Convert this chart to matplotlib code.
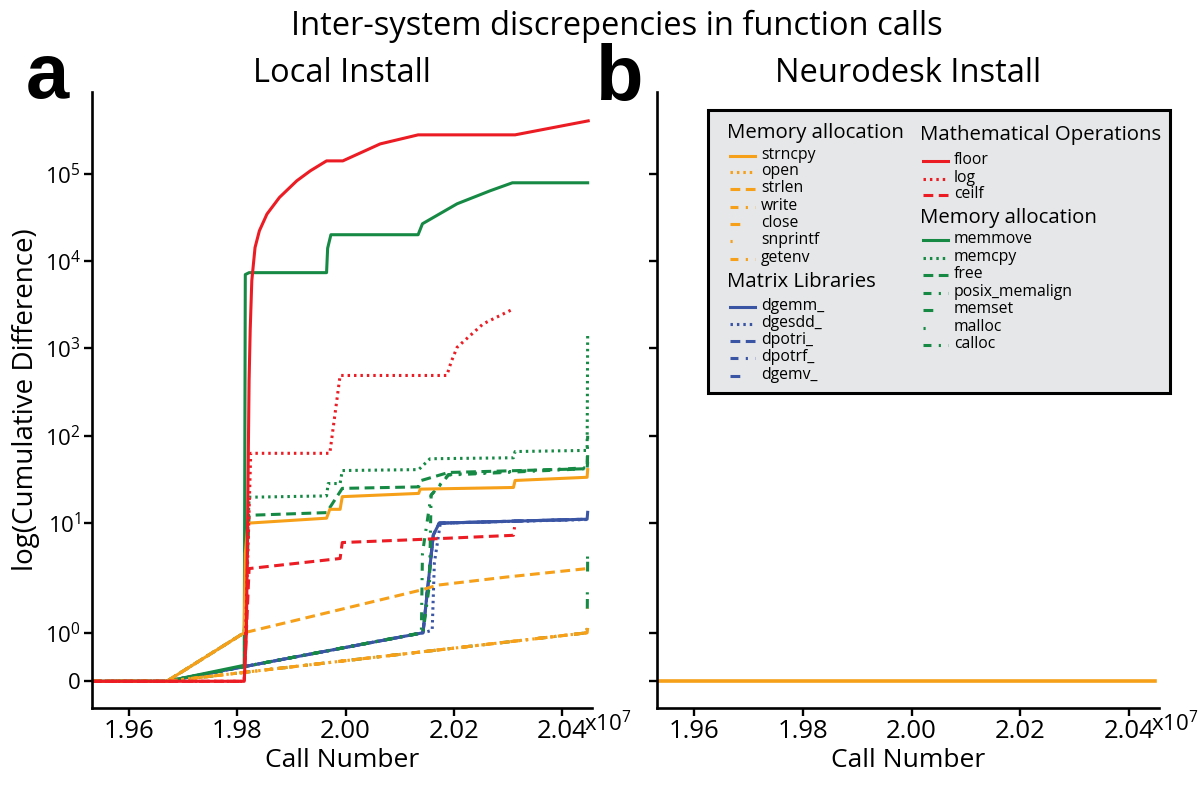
import matplotlib
matplotlib.use('Agg')
import matplotlib.pyplot as plt
from matplotlib.lines import Line2D
from matplotlib.patches import Rectangle
from matplotlib.ticker import FixedLocator, NullLocator

# call numbers below are given in units of 1e7 calls

# --- Local install: cumulative difference per function ---
# Memory allocation (orange)
strncpy_x = [1.9532, 1.9670, 1.9813, 1.9815, 1.9820, 1.9965, 1.9971, 1.9990, 1.9994, 2.0135, 2.0138, 2.0310, 2.0313, 2.0446, 2.0447]
strncpy_y = [0, 0, 1.0, 4.5, 10.0, 11.4, 14.4, 14.4, 20.1, 21.9, 24.5, 25.6, 30.8, 33.5, 41]
open_x = [1.9532, 1.9670, 2.0446]
open_y = [0, 0, 1.0]
strlen_x = [1.9532, 1.9670, 1.9813, 2.0143, 2.0169, 2.0298, 2.0446]
strlen_y = [0, 0, 1.0, 1.89, 1.98, 2.42, 3.02]
write_x = [1.9532, 1.9670, 2.0446]
write_y = [0, 0, 1.0]
close_x = [1.9532, 1.9670, 2.0446, 2.0447]
close_y = [0, 0, 1.0, 1.5]
snprintf_x = [1.9532, 1.9670, 2.0446, 2.0447]
snprintf_y = [0, 0, 1.0, 1.75]
getenv_x = [1.9532, 1.9670, 2.0446, 2.0447]
getenv_y = [0, 0, 1.0, 1.1]

# Matrix libraries (blue)
dgemm_x = [1.9532, 1.9670, 2.0143, 2.0162, 2.0173, 2.0446, 2.0447]
dgemm_y = [0, 0, 1.0, 7.3, 10.0, 11.1, 13.3]
dgesdd_x = [1.9532, 1.9670, 2.0143, 2.0160, 2.0164, 2.0175, 2.0446]
dgesdd_y = [0, 0, 1.0, 1.05, 3.5, 10.0, 11.0]
dpotri_x = [1.9532, 1.9670, 2.0143, 2.0162, 2.0173, 2.0446]
dpotri_y = [0, 0, 1.0, 7.3, 10.0, 11.1]
dpotrf_x = [1.9532, 1.9670, 2.0143, 2.0162, 2.0173, 2.0446]
dpotrf_y = [0, 0, 1.0, 7.3, 10.0, 11.1]
dgemv_x = [1.9532, 1.9670, 2.0143, 2.0162, 2.0173, 2.0446]
dgemv_y = [0, 0, 1.0, 7.3, 10.0, 11.1]

# Mathematical operations (red)
floor_x = [1.9532, 1.9813, 1.9817, 1.9822, 1.9824, 1.9827, 1.9833, 1.9841, 1.9855, 1.9878, 1.9910, 1.9935,
           1.9965, 1.9995, 2.0064, 2.0134, 2.0313, 2.0448]
floor_y = [0, 0, 1.0, 428, 1600, 5980, 14300, 22200, 34500, 53400, 82800, 107700,
           140000, 140000, 219000, 278000, 278000, 402000]
log_x = [1.9532, 1.9813, 1.9825, 1.9971, 1.9990, 2.0187, 2.0195, 2.0206, 2.0254, 2.0310]
log_y = [0, 0, 63, 63, 490, 490, 700, 1030, 1908, 2832]
ceilf_x = [1.9532, 1.9813, 1.9822, 1.9990, 1.9994, 2.0135, 2.0310, 2.0312]
ceilf_y = [0, 0, 3.02, 3.94, 6.0, 6.5, 7.26, 9.0]

# Memory allocation (green)
memmove_x = [1.9532, 1.9670, 1.9813, 1.9815, 1.9822, 1.9965, 1.9967, 1.9973, 2.0134, 2.0142, 2.0206, 2.0267, 2.0308, 2.0447]
memmove_y = [0, 0, 0.33, 7000, 7360, 7360, 14000, 20000, 20000, 26700, 45200, 63700, 78600, 78600]
memcpy_x = [1.9532, 1.9670, 1.9813, 1.9822, 1.9965, 1.9968, 1.9990, 1.9994, 2.0135, 2.0156, 2.0310, 2.0313, 2.0446, 2.0447]
memcpy_y = [0, 0, 1.0, 19.8, 20.5, 28.4, 28.4, 40, 41, 54.6, 56, 66, 68, 1400]
free_x = [1.9532, 1.9670, 1.9813, 1.9822, 1.9965, 1.9994, 2.0135, 2.0140, 2.0190, 2.0446, 2.0447]
free_y = [0, 0, 1.0, 12.3, 13.2, 25, 26, 30.8, 38, 42, 50]
posix_x = [1.9532, 1.9670, 2.0143, 2.0155, 2.0158, 2.0171, 2.0190, 2.0446, 2.0447]
posix_y = [0, 0, 1.0, 2.0, 20.9, 25.6, 35.5, 42, 100]
memset_x = [1.9532, 1.9670, 2.0446, 2.0447]
memset_y = [0, 0, 1.0, 4.0]
malloc_x = [1.9532, 1.9670, 2.0446, 2.0447]
malloc_y = [0, 0, 1.0, 7.6]
calloc_x = [1.9532, 1.9670, 2.0140, 2.0142, 2.0158, 2.0171, 2.0190, 2.0446, 2.0447]
calloc_y = [0, 0, 1.0, 4.5, 21, 26, 36, 43, 60]

# --- Neurodesk install: no differences at all ---
neuro_x = [1.9532, 2.0447]
neuro_y = [0, 0]

xticks = [1.96, 1.98, 2.00, 2.02, 2.04]
yticks = [0, 1, 10, 100, 1000, 10000, 100000]
ytick_labels = ['0', r'$10^0$', r'$10^1$', r'$10^2$', r'$10^3$', r'$10^4$', r'$10^5$']

ORANGE = '#F6A01A'
BLUE = '#3B55A5'
RED = '#EC1C24'
GREEN = '#168A45'

SOLID = '-'
DOT = (0, (0.8, 1.3))
DASH = (0, (3.2, 1.8))
DASHDOT = (0, (2.6, 2.4, 0.7, 2.4))
LONEDASH = (0, (3.2, 9))
LONEDOT = (0, (0.7, 11))

blue_series = [
    ('dgemm_', dgemm_x, dgemm_y, BLUE, SOLID),
    ('dgesdd_', dgesdd_x, dgesdd_y, BLUE, DOT),
    ('dpotri_', dpotri_x, dpotri_y, BLUE, DASH),
    ('dpotrf_', dpotrf_x, dpotrf_y, BLUE, DASHDOT),
    ('dgemv_', dgemv_x, dgemv_y, BLUE, LONEDASH),
]
green_series = [
    ('memmove', memmove_x, memmove_y, GREEN, SOLID),
    ('memcpy', memcpy_x, memcpy_y, GREEN, DOT),
    ('free', free_x, free_y, GREEN, DASH),
    ('posix_memalign', posix_x, posix_y, GREEN, DASHDOT),
    ('memset', memset_x, memset_y, GREEN, LONEDASH),
    ('malloc', malloc_x, malloc_y, GREEN, LONEDOT),
    ('calloc', calloc_x, calloc_y, GREEN, DASHDOT),
]
orange_series = [
    ('strncpy', strncpy_x, strncpy_y, ORANGE, SOLID),
    ('open', open_x, open_y, ORANGE, DOT),
    ('strlen', strlen_x, strlen_y, ORANGE, DASH),
    ('write', write_x, write_y, ORANGE, DASHDOT),
    ('close', close_x, close_y, ORANGE, LONEDASH),
    ('snprintf', snprintf_x, snprintf_y, ORANGE, LONEDOT),
    ('getenv', getenv_x, getenv_y, ORANGE, DASHDOT),
]
red_series = [
    ('floor', floor_x, floor_y, RED, SOLID),
    ('log', log_x, log_y, RED, DOT),
    ('ceilf', ceilf_x, ceilf_y, RED, DASH),
]
series = blue_series + green_series + orange_series + red_series
style = {name: (c, ls) for name, _, _, c, ls in series}

plt.rcParams['font.family'] = ['Open Sans', 'DejaVu Sans']
plt.rcParams['mathtext.fontset'] = 'custom'
plt.rcParams['mathtext.rm'] = 'Open Sans'
plt.rcParams['mathtext.it'] = 'Open Sans:italic'
plt.rcParams['mathtext.bf'] = 'Open Sans:bold'

W, H = 1202, 785
fig = plt.figure(figsize=(W / 100, H / 100), dpi=100)


def fx(px):
    return px / W


def fy(py):
    return 1 - py / H


axL = fig.add_axes([fx(92), fy(708), fx(592) - fx(92), fy(92) - fy(708)])
axR = fig.add_axes([fx(657), fy(708), fx(1159) - fx(657), fy(92) - fy(708)])

LW = 2.2
for name, x, y, c, ls in series:
    axL.plot(x, y, color=c, ls=ls, lw=LW)

# everything is zero on neurodesk, strncpy drawn last so it sits on top
for name, x, y, c, ls in series:
    if name != 'strncpy':
        axR.plot(neuro_x, neuro_y, color=c, ls=ls, lw=1.2)
axR.plot(neuro_x, neuro_y, color=ORANGE, lw=2.6)

for ax in (axL, axR):
    ax.set_yscale('symlog', linthresh=2, linscale=1)
    ax.set_xlim(1.9532, 2.0455)
    ax.set_ylim(-0.55, 8.6e5)
    ax.spines[['top', 'right']].set_visible(False)
    ax.spines[['left', 'bottom']].set_linewidth(1.9)
    ax.tick_params(width=1.7, length=6, direction='out', pad=2)
    ax.set_xticks(xticks)
    ax.set_xticklabels([f'{t:.2f}' for t in xticks], fontsize=18.5)
    ax.yaxis.set_major_locator(FixedLocator(yticks))
    ax.yaxis.set_minor_locator(NullLocator())
    ax.set_xlabel('Call Number', fontsize=19, labelpad=3)
    ax.text(0.985, -0.037, r'x10$^7$', transform=ax.transAxes, fontsize=16,
            ha='left', va='baseline')

axL.set_yticklabels(ytick_labels, fontsize=16)
axR.set_yticklabels([])
axL.set_ylabel('log(Cumulative Difference)', fontsize=20, labelpad=3)

axL.set_title('Local Install', fontsize=23.5, pad=7)
axR.set_title('Neurodesk Install', fontsize=23.5, pad=7)
fig.text(fx(617), fy(10), 'Inter-system discrepencies in function calls', fontsize=23.5,
         ha='center', va='top')

fig.text(fx(26), fy(98), 'a', fontsize=56, fontweight='bold', family='Liberation Sans', va='baseline')
fig.text(fx(596), fy(100), 'b', fontsize=56, fontweight='bold', family='Liberation Sans', va='baseline')

# legend, laid out by hand (two columns with group headers)
fig.add_artist(Rectangle((fx(708), fy(393)), fx(1170) - fx(708), fy(110) - fy(393),
                         transform=fig.transFigure, facecolor='#E6E7E8',
                         edgecolor='black', lw=2.2, zorder=5))

legend_cols = [
    (727, [('h', 'Memory allocation', 133),
           ('strncpy', 155), ('open', 171), ('strlen', 188), ('write', 206),
           ('close', 223), ('snprintf', 240), ('getenv', 258),
           ('h', 'Matrix Libraries', 282),
           ('dgemm_', 306), ('dgesdd_', 323), ('dpotri_', 340), ('dpotrf_', 357),
           ('dgemv_', 375)]),
    (920, [('h', 'Mathematical Operations', 135),
           ('floor', 160), ('log', 178), ('ceilf', 194),
           ('h', 'Memory allocation', 218),
           ('memmove', 239), ('memcpy', 257), ('free', 274), ('posix_memalign', 292),
           ('memset', 309), ('malloc', 327), ('calloc', 344)]),
]
for x0, rows in legend_cols:
    for row in rows:
        if row[0] == 'h':
            fig.text(fx(x0), fy(row[2]), row[1], fontsize=14.7, va='center', ha='left', zorder=6)
        else:
            name, yy = row
            c, ls = style[name]
            fig.add_artist(Line2D([fx(x0 + 3), fx(x0 + 28)], [fy(yy + 1), fy(yy + 1)],
                                  transform=fig.transFigure, color=c, ls=ls, lw=LW, zorder=6))
            fig.text(fx(x0 + 34), fy(yy), name, fontsize=11.3, va='center', ha='left', zorder=6)

fig.savefig('out.png', dpi=100)
